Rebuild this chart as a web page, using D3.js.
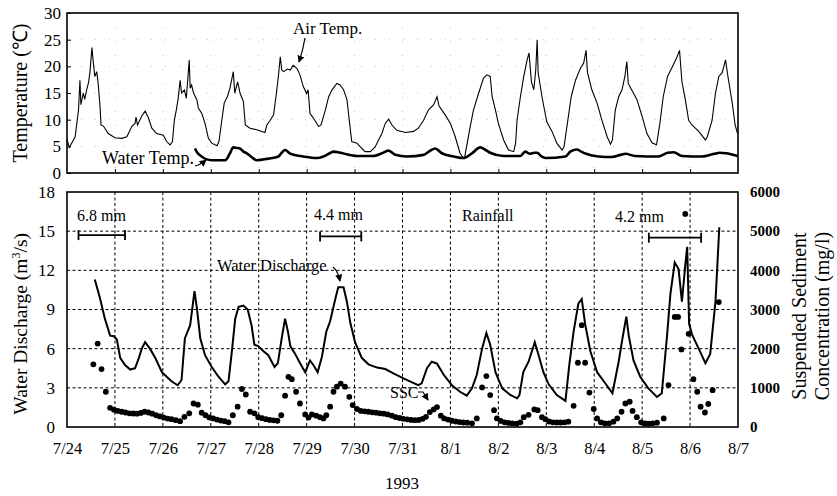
<!DOCTYPE html>
<html>
<head>
<meta charset="utf-8">
<script src="https://cdn.jsdelivr.net/npm/d3@7"></script>
<style>
  body { margin: 0; background: #fff; }
  svg text { font-family: "Liberation Serif", "Times New Roman", Times, serif; fill: #000; }
</style>
</head>
<body>
<script>
// time is in days since 7/24 00:00
const dayLabels = ["7/24","7/25","7/26","7/27","7/28","7/29","7/30","7/31","8/1","8/2","8/3","8/4","8/5","8/6","8/7"];
const tempTicks = [0, 5, 10, 15, 20, 25, 30];
const qTicks = [0, 3, 6, 9, 12, 15, 18];
const sscTicks = [0, 1000, 2000, 3000, 4000, 5000, 6000];

// air temperature (°C)
const airTemp = [
  [0.00,6.3],[0.05,4.8],[0.17,6.8],[0.24,11.8],[0.27,17.4],[0.29,12.8],[0.34,15.0],[0.37,13.8],[0.41,15.6],[0.45,17.0],
  [0.48,19.0],[0.52,23.5],[0.55,20.6],[0.58,18.1],[0.62,19.0],[0.65,16.8],[0.69,12.4],[0.71,9.0],[0.76,8.8],[0.86,7.4],
  [1.00,6.6],[1.14,6.5],[1.25,6.8],[1.35,8.7],[1.42,9.3],[1.44,10.5],[1.47,9.0],[1.56,10.7],[1.63,11.6],[1.70,10.3],
  [1.77,8.4],[1.87,7.4],[2.01,7.1],[2.08,5.9],[2.15,5.25],[2.20,5.9],[2.24,9.9],[2.28,11.8],[2.32,14.0],[2.36,17.4],
  [2.39,15.0],[2.45,15.6],[2.49,14.0],[2.55,21.2],[2.57,15.9],[2.60,16.5],[2.64,15.0],[2.71,13.7],[2.74,12.2],[2.81,11.2],
  [2.88,9.3],[2.95,6.5],[3.02,5.6],[3.13,5.1],[3.17,5.9],[3.23,9.9],[3.28,13.1],[3.35,14.4],[3.40,15.9],[3.47,19.0],
  [3.50,15.0],[3.56,17.1],[3.61,15.0],[3.68,13.4],[3.72,9.0],[3.82,8.4],[3.96,8.1],[4.13,7.6],[4.17,9.0],[4.24,9.9],
  [4.31,10.9],[4.36,14.3],[4.41,18.1],[4.45,21.8],[4.48,19.3],[4.52,19.0],[4.60,19.5],[4.66,19.3],[4.72,20.2],[4.80,19.6],
  [4.86,18.4],[4.93,16.2],[5.00,14.9],[5.03,15.6],[5.07,11.2],[5.14,10.3],[5.25,8.7],[5.30,9.0],[5.39,11.8],[5.46,14.3],
  [5.53,15.6],[5.63,16.8],[5.70,16.5],[5.77,15.6],[5.84,13.8],[5.89,9.9],[5.94,5.9],[6.05,5.6],[6.12,4.9],[6.22,4.0],
  [6.33,4.0],[6.43,4.9],[6.50,6.2],[6.57,7.4],[6.64,9.3],[6.71,10.1],[6.78,9.0],[6.88,8.0],[7.06,7.6],[7.23,7.8],
  [7.33,8.4],[7.44,9.9],[7.54,11.8],[7.65,12.8],[7.72,14.3],[7.76,12.6],[7.89,10.9],[8.00,9.3],[8.10,6.8],[8.20,3.7],
  [8.27,2.8],[8.30,3.1],[8.40,8.1],[8.48,11.8],[8.59,15.0],[8.69,17.8],[8.76,18.4],[8.83,18.1],[8.87,14.3],[8.94,11.8],
  [9.00,9.3],[9.11,6.2],[9.21,4.3],[9.32,4.0],[9.36,5.6],[9.39,9.9],[9.46,14.3],[9.53,18.1],[9.60,21.2],[9.64,22.5],
  [9.69,17.1],[9.74,15.6],[9.78,19.3],[9.81,25.0],[9.83,18.8],[9.91,14.3],[10.01,9.6],[10.12,7.8],[10.22,5.6],[10.33,4.3],
  [10.37,4.9],[10.45,9.9],[10.52,14.3],[10.61,17.4],[10.71,19.6],[10.78,20.6],[10.83,23.0],[10.86,18.8],[10.95,15.6],[11.06,13.1],
  [11.16,9.9],[11.27,6.8],[11.34,5.4],[11.38,6.2],[11.44,11.8],[11.51,14.3],[11.58,15.6],[11.64,18.1],[11.68,20.9],[11.71,16.8],
  [11.78,15.6],[11.89,13.8],[12.00,10.6],[12.10,7.4],[12.21,5.6],[12.30,5.3],[12.37,9.3],[12.44,14.3],[12.53,18.1],[12.63,19.9],
  [12.73,21.8],[12.78,23.0],[12.83,17.1],[12.90,13.8],[12.97,9.9],[13.04,9.0],[13.18,7.8],[13.32,6.2],[13.36,6.8],[13.46,9.9],
  [13.53,15.0],[13.60,18.1],[13.67,18.8],[13.74,21.2],[13.79,18.1],[13.88,13.1],[13.94,9.0],[13.99,7.4]
];

// water temperature (°C)
const waterTemp = [
  [2.67,4.6],[2.72,3.8],[2.81,3.1],[2.90,2.6],[3.02,2.4],[3.30,2.4],[3.40,3.7],[3.47,4.8],[3.54,4.7],[3.61,4.6],
  [3.68,4.0],[3.75,3.7],[3.85,3.0],[3.96,2.4],[4.20,2.7],[4.41,3.1],[4.48,3.8],[4.55,4.3],[4.62,3.9],[4.66,3.6],
  [4.93,3.1],[5.21,2.8],[5.35,3.1],[5.50,3.8],[5.56,4.0],[5.65,3.9],[5.75,3.7],[6.05,3.2],[6.39,3.2],[6.57,3.7],
  [6.71,4.2],[6.85,3.4],[7.09,3.1],[7.44,3.4],[7.58,4.2],[7.68,4.6],[7.82,3.7],[8.07,3.1],[8.27,2.8],[8.45,3.7],
  [8.62,4.8],[8.70,4.5],[8.83,3.8],[9.11,3.2],[9.46,3.2],[9.56,4.0],[9.66,3.6],[9.75,3.8],[9.81,3.8],[9.90,3.1],
  [9.98,2.8],[10.40,3.1],[10.50,4.0],[10.64,4.4],[10.73,4.0],[10.83,3.6],[11.09,3.1],[11.37,3.0],[11.55,3.4],[11.65,3.6],
  [11.85,3.2],[12.34,3.1],[12.53,3.8],[12.66,3.9],[12.83,3.2],[13.25,3.1],[13.50,3.6],[13.62,3.8],[13.75,3.7],[13.99,3.2]
];

// water discharge (m3/s)
const discharge = [
  [0.58,11.3],[0.69,9.85],[0.79,8.3],[0.90,7.0],[0.98,6.95],[1.04,6.7],[1.11,5.3],[1.21,4.75],[1.32,4.4],[1.42,4.5],
  [1.50,5.3],[1.56,6.0],[1.63,6.5],[1.73,6.0],[1.84,5.3],[1.98,4.2],[2.08,3.85],[2.18,3.5],[2.31,3.2],[2.39,3.6],
  [2.46,6.8],[2.57,7.8],[2.66,10.4],[2.71,9.1],[2.78,6.8],[2.88,5.5],[3.02,4.6],[3.16,3.85],[3.30,3.27],[3.37,3.5],
  [3.44,5.8],[3.51,8.3],[3.58,9.2],[3.68,9.3],[3.77,9.0],[3.85,7.8],[3.91,6.3],[3.99,6.2],[4.10,5.8],[4.20,5.5],
  [4.33,4.6],[4.40,4.9],[4.48,6.8],[4.55,8.3],[4.61,7.3],[4.66,6.2],[4.76,5.6],[4.86,4.9],[4.97,4.2],[5.07,5.1],
  [5.14,4.75],[5.23,4.2],[5.32,5.4],[5.41,7.3],[5.49,8.1],[5.60,9.85],[5.66,10.7],[5.77,10.7],[5.84,9.6],[5.91,8.0],
  [6.01,6.5],[6.15,5.3],[6.29,4.8],[6.47,4.55],[6.64,4.44],[6.81,4.1],[7.02,3.73],[7.20,3.42],[7.33,3.2],[7.40,3.35],
  [7.51,4.5],[7.61,5.0],[7.72,4.85],[7.86,4.0],[8.03,3.2],[8.20,2.7],[8.34,2.4],[8.45,2.96],[8.55,4.0],[8.66,6.0],
  [8.75,7.2],[8.83,6.3],[8.94,4.2],[9.08,2.96],[9.25,2.45],[9.39,2.2],[9.44,2.45],[9.52,4.2],[9.63,5.0],[9.76,6.5],
  [9.84,5.5],[9.94,4.2],[10.05,3.27],[10.22,2.45],[10.40,2.0],[10.48,4.75],[10.57,7.3],[10.67,9.47],[10.74,9.8],[10.81,7.9],
  [10.92,5.8],[11.06,4.2],[11.23,3.35],[11.38,2.58],[11.51,5.0],[11.59,6.8],[11.67,8.45],[11.72,7.0],[11.82,5.1],[11.96,3.85],
  [12.13,2.96],[12.31,2.3],[12.41,2.58],[12.52,7.0],[12.59,10.2],[12.68,12.6],[12.76,12.1],[12.83,9.6],[12.90,12.4],[12.94,13.8],
  [12.98,7.9],[13.04,7.1],[13.18,6.0],[13.32,4.88],[13.42,5.6],[13.53,9.6],[13.61,15.3]
];

// suspended sediment concentration (mg/l)
const ssc = [
  [0.55,1600],[0.64,2130],[0.72,1480],[0.81,900],[0.90,490],[0.98,440],[1.06,410],[1.14,390],[1.22,370],[1.30,350],
  [1.38,345],[1.46,340],[1.54,360],[1.62,390],[1.70,370],[1.78,340],[1.86,300],[1.94,270],[2.02,240],[2.10,215],
  [2.18,200],[2.27,175],[2.36,150],[2.45,260],[2.55,350],[2.64,600],[2.73,570],[2.81,365],[2.89,300],[2.97,245],
  [3.05,220],[3.13,190],[3.21,165],[3.29,150],[3.37,120],[3.46,300],[3.56,520],[3.65,970],[3.73,830],[3.82,390],
  [3.91,350],[3.99,250],[4.07,225],[4.15,200],[4.23,180],[4.31,170],[4.39,160],[4.47,300],[4.55,800],[4.62,1280],
  [4.69,1220],[4.78,900],[4.86,600],[4.97,320],[5.04,240],[5.11,320],[5.20,290],[5.28,250],[5.35,220],[5.41,300],
  [5.49,520],[5.56,900],[5.63,1030],[5.71,1110],[5.80,1030],[5.89,770],[5.96,560],[6.05,460],[6.13,410],[6.21,400],
  [6.29,390],[6.37,375],[6.45,365],[6.53,350],[6.61,340],[6.69,320],[6.78,290],[6.86,250],[6.94,230],[7.02,210],
  [7.10,195],[7.18,180],[7.26,175],[7.34,180],[7.42,210],[7.49,260],[7.57,380],[7.65,450],[7.72,510],[7.80,290],
  [7.87,220],[7.95,190],[8.03,160],[8.11,140],[8.19,125],[8.27,115],[8.35,110],[8.45,95],[8.55,220],[8.66,1010],
  [8.75,1300],[8.83,815],[8.91,430],[8.97,220],[9.05,155],[9.13,120],[9.21,105],[9.29,95],[9.38,85],[9.46,120],
  [9.53,250],[9.63,310],[9.75,450],[9.82,430],[9.91,250],[9.98,200],[10.06,140],[10.14,120],[10.22,115],[10.30,115],
  [10.38,120],[10.46,135],[10.57,540],[10.66,1640],[10.74,2600],[10.81,1640],[10.90,880],[10.99,460],[11.06,220],[11.14,120],
  [11.22,95],[11.31,95],[11.40,135],[11.48,220],[11.57,390],[11.65,600],[11.74,645],[11.80,410],[11.89,250],[11.98,120],
  [12.06,90],[12.14,85],[12.22,95],[12.31,110],[12.45,220],[12.55,1070],[12.68,2810],[12.75,2810],[12.82,1980],[12.90,5440],
  [12.97,2380],[13.07,1220],[13.15,900],[13.22,520],[13.31,370],[13.38,590],[13.47,940],[13.60,3190]
];

// rainfall events
const rainStart = [0.24, 5.28, 12.14];
const rainEnd = [1.21, 6.14, 13.23];
const rainLabel = ["6.8 mm", "4.4 mm", "4.2 mm"];

const width = 837, height = 496;
const serif = '"Liberation Serif", "Times New Roman", Times, serif';

const svg = d3.select("body").append("svg")
  .attr("width", width)
  .attr("height", height)
  .style("font-family", serif);

const x = d3.scaleLinear().domain([0, 14]).range([67, 738]);
const yT = d3.scaleLinear().domain([0, 30]).range([173, 13]);
const yQ = d3.scaleLinear().domain([0, 18]).range([427, 192]);
const yS = d3.scaleLinear().domain([0, 6000]).range([427, 192]);

svg.append("defs").append("marker")
  .attr("id", "arrow")
  .attr("viewBox", "0 0 8 8")
  .attr("refX", 7).attr("refY", 4)
  .attr("markerWidth", 6).attr("markerHeight", 6)
  .attr("orient", "auto")
  .append("path")
  .attr("d", "M0,0 L8,4 L0,8 Z")
  .attr("fill", "#000");

// strip d3's default axis font so the serif face is used
function tidy(g, size, bold) {
  g.attr("font-family", null).attr("font-size", null);
  g.select(".domain").remove();
  g.selectAll("text")
    .style("font-family", serif)
    .style("font-size", size + "px")
    .style("font-weight", bold ? "bold" : "normal");
}

/* ---------- top panel: temperature ---------- */

const topG = svg.append("g");

// faint dotted grid
topG.append("g").selectAll("line")
  .data(d3.range(1, 14))
  .join("line")
  .attr("x1", d => x(d)).attr("x2", d => x(d))
  .attr("y1", yT(30)).attr("y2", yT(0))
  .attr("stroke", "#c4c4c4").attr("stroke-width", 1)
  .attr("stroke-dasharray", "1,13");
topG.append("g").selectAll("line")
  .data(tempTicks.slice(1, -1))
  .join("line")
  .attr("x1", x(0)).attr("x2", x(14))
  .attr("y1", d => yT(d)).attr("y2", d => yT(d))
  .attr("stroke", "#c4c4c4").attr("stroke-width", 1)
  .attr("stroke-dasharray", "1,13");

topG.append("path")
  .datum(airTemp)
  .attr("d", d3.line().x(d => x(d[0])).y(d => yT(d[1])))
  .attr("fill", "none")
  .attr("stroke", "#000")
  .attr("stroke-width", 1.1);

topG.append("path")
  .datum(waterTemp)
  .attr("d", d3.line().x(d => x(d[0])).y(d => yT(d[1])).curve(d3.curveMonotoneX))
  .attr("fill", "none")
  .attr("stroke", "#000")
  .attr("stroke-width", 2.6);

topG.append("rect")
  .attr("x", x(0)).attr("y", yT(30))
  .attr("width", x(14) - x(0)).attr("height", yT(0) - yT(30))
  .attr("fill", "none").attr("stroke", "#000").attr("stroke-width", 1.6);

topG.append("g")
  .attr("transform", `translate(${x(0)},0)`)
  .call(d3.axisLeft(yT).tickValues(tempTicks).tickSize(-4).tickPadding(6))
  .call(g => tidy(g, 17));

topG.append("g")
  .attr("transform", `translate(0,${yT(0)})`)
  .call(d3.axisBottom(x).tickValues(d3.range(1, 14)).tickSize(-4).tickFormat(""))
  .call(g => tidy(g, 10));

topG.append("text")
  .attr("transform", `translate(27,${yT(15)}) rotate(-90)`)
  .attr("text-anchor", "middle")
  .style("font-size", "20px")
  .text("Temperature (℃)");

topG.append("text")
  .attr("x", 293).attr("y", 34)
  .style("font-size", "17px")
  .text("Air Temp.");
topG.append("path")
  .attr("d", "M305,38 Q303,50 299,62")
  .attr("fill", "none").attr("stroke", "#000").attr("stroke-width", 1.2)
  .attr("marker-end", "url(#arrow)");

topG.append("text")
  .attr("x", 102).attr("y", 164)
  .style("font-size", "18px")
  .text("Water Temp.");
topG.append("path")
  .attr("d", "M195,166 Q200,165 206,160")
  .attr("fill", "none").attr("stroke", "#000").attr("stroke-width", 1.2)
  .attr("marker-end", "url(#arrow)");

/* ---------- bottom panel: discharge and SSC ---------- */

const botG = svg.append("g");

botG.append("g").selectAll("line")
  .data(d3.range(1, 14))
  .join("line")
  .attr("x1", d => x(d)).attr("x2", d => x(d))
  .attr("y1", yQ(18)).attr("y2", yQ(0))
  .attr("stroke", "#000").attr("stroke-width", 1)
  .attr("stroke-dasharray", "3,2.5");
botG.append("g").selectAll("line")
  .data(qTicks.slice(1, -1))
  .join("line")
  .attr("x1", x(0)).attr("x2", x(14))
  .attr("y1", d => yQ(d)).attr("y2", d => yQ(d))
  .attr("stroke", "#000").attr("stroke-width", 1)
  .attr("stroke-dasharray", "3,2.5");

botG.append("path")
  .datum(discharge)
  .attr("d", d3.line().x(d => x(d[0])).y(d => yQ(d[1])))
  .attr("fill", "none")
  .attr("stroke", "#000")
  .attr("stroke-width", 2);

botG.append("g").selectAll("circle")
  .data(ssc)
  .join("circle")
  .attr("cx", d => x(d[0]))
  .attr("cy", d => yS(d[1]))
  .attr("r", 2.9)
  .attr("fill", "#000");

botG.append("rect")
  .attr("x", x(0)).attr("y", yQ(18))
  .attr("width", x(14) - x(0)).attr("height", yQ(0) - yQ(18))
  .attr("fill", "none").attr("stroke", "#000").attr("stroke-width", 1.6);

// rainfall bars
const rainY = [14.7, 14.6, 14.5];
const rain = botG.append("g");
rainStart.forEach((s, i) => {
  const yy = yQ(rainY[i]);
  rain.append("line")
    .attr("x1", x(s)).attr("x2", x(rainEnd[i]))
    .attr("y1", yy).attr("y2", yy)
    .attr("stroke", "#000").attr("stroke-width", 1.8);
  [s, rainEnd[i]].forEach(e => {
    rain.append("line")
      .attr("x1", x(e)).attr("x2", x(e))
      .attr("y1", yy - 5).attr("y2", yy + 5)
      .attr("stroke", "#000").attr("stroke-width", 1.8);
  });
});
const rainLabelX = [77, 314, 615];
const rainLabelY = [221, 220, 222];
rainLabel.forEach((t, i) => {
  rain.append("text")
    .attr("x", rainLabelX[i]).attr("y", rainLabelY[i])
    .style("font-size", "16px")
    .text(t);
});
rain.append("text")
  .attr("x", 462).attr("y", 221)
  .style("font-size", "16px")
  .text("Rainfall");

botG.append("text")
  .attr("x", 217).attr("y", 271)
  .style("font-size", "16.5px")
  .text("Water Discharge");
botG.append("path")
  .attr("d", "M333,267 Q338,271 340,281")
  .attr("fill", "none").attr("stroke", "#000").attr("stroke-width", 1.2)
  .attr("marker-end", "url(#arrow)");

botG.append("text")
  .attr("x", 390).attr("y", 398)
  .style("font-size", "16px")
  .text("SSC");
botG.append("path")
  .attr("d", "M418,392 L423,392 L428,400")
  .attr("fill", "none").attr("stroke", "#000").attr("stroke-width", 1.2)
  .attr("marker-end", "url(#arrow)");

botG.append("g")
  .attr("transform", `translate(${x(0)},0)`)
  .call(d3.axisLeft(yQ).tickValues(qTicks).tickSize(0).tickPadding(12))
  .call(g => tidy(g, 17));

botG.append("g")
  .attr("transform", `translate(${x(14)},0)`)
  .call(d3.axisRight(yS).tickValues(sscTicks).tickSize(0).tickPadding(12).tickFormat(d3.format("d")))
  .call(g => tidy(g, 15, true));

botG.append("g")
  .attr("transform", `translate(0,${yQ(0)})`)
  .call(d3.axisBottom(x).tickValues(d3.range(0, 15)).tickSize(0).tickPadding(15)
    .tickFormat(i => dayLabels[i]))
  .call(g => tidy(g, 16.5));

botG.append("text")
  .attr("x", 402).attr("y", 489)
  .attr("text-anchor", "middle")
  .style("font-size", "17px")
  .text("1993");

botG.append("text")
  .attr("transform", `translate(27,${yQ(7.9)}) rotate(-90)`)
  .attr("text-anchor", "middle")
  .style("font-size", "19.5px")
  .html("Water Discharge (m<tspan dy='-7' font-size='12px'>3</tspan><tspan dy='7'>/s)</tspan>");

botG.append("text")
  .attr("transform", `translate(806,${yQ(8.5)}) rotate(-90)`)
  .attr("text-anchor", "middle")
  .style("font-size", "20px")
  .text("Suspended Sediment");
botG.append("text")
  .attr("transform", `translate(829,${yQ(8.5)}) rotate(-90)`)
  .attr("text-anchor", "middle")
  .style("font-size", "20px")
  .text("Concentration (mg/l)");
</script>
</body>
</html>
